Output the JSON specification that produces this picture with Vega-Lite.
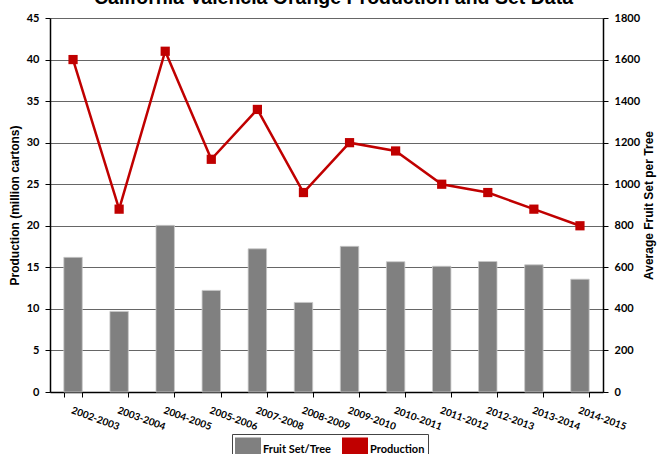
{
  "$schema": "https://vega.github.io/schema/vega-lite/v6.json",
  "autosize": {"type": "none"},
  "width": 553,
  "height": 374,
  "padding": {"left": 50, "top": 18, "right": 54, "bottom": 62},
  "background": "white",
  "title": {
    "text": "California Valencia Orange Production and Set Data",
    "font": "Liberation Sans",
    "fontSize": 19.5,
    "fontWeight": "bold",
    "color": "black",
    "anchor": "middle",
    "frame": "group",
    "baseline": "alphabetic",
    "offset": 3,
    "dy": 14.5,
    "dx": 7
  },
  "config": {
    "view": {"stroke": null},
    "axis": {
      "labelFont": "Lato",
      "labelFontWeight": "bold",
      "labelFontSize": 11,
      "labelColor": "black",
      "titleFont": "Liberation Sans",
      "titleFontWeight": "bold",
      "titleFontSize": 12,
      "titleColor": "black",
      "domainColor": "black",
      "tickColor": "black"
    }
  },
  "data": {
    "values": [
      {"season": "2002-2003", "production": 40, "fruitset": 648},
      {"season": "2003-2004", "production": 22, "fruitset": 388},
      {"season": "2004-2005", "production": 41, "fruitset": 802},
      {"season": "2005-2006", "production": 28, "fruitset": 489},
      {"season": "2007-2008", "production": 34, "fruitset": 689},
      {"season": "2008-2009", "production": 24, "fruitset": 431},
      {"season": "2009-2010", "production": 30, "fruitset": 701},
      {"season": "2010-2011", "production": 29, "fruitset": 627},
      {"season": "2011-2012", "production": 25, "fruitset": 605},
      {"season": "2012-2013", "production": 24, "fruitset": 628},
      {"season": "2013-2014", "production": 22, "fruitset": 612},
      {"season": "2014-2015", "production": 20, "fruitset": 543}
    ]
  },
  "encoding": {
    "x": {
      "field": "season",
      "type": "nominal",
      "sort": null,
      "scale": {"paddingInner": 0.6, "paddingOuter": 0.3},
      "axis": {
        "title": null,
        "labelAngle": 20,
        "labelAlign": "left",
        "labelBaseline": "top",
        "labelPadding": 8,
        "labelFontSize": 10,
        "tickBand": "extent",
        "tickSize": 5,
        "domainWidth": 1.5
      }
    }
  },
  "layer": [
    {
      "mark": {"type": "bar", "stroke": "#c8c8c8", "strokeWidth": 0.8},
      "encoding": {
        "y": {
          "field": "fruitset",
          "type": "quantitative",
          "scale": {"domain": [0, 1800], "nice": false},
          "axis": {
            "orient": "right",
            "title": "Average Fruit Set per Tree",
            "titleAngle": 270,
            "titleBaseline": "top",
            "values": [0, 200, 400, 600, 800, 1000, 1200, 1400, 1600, 1800],
            "format": "d",
            "grid": false,
            "tickSize": 5,
            "labelPadding": 6,
            "titlePadding": 4,
            "domainWidth": 1.5
          }
        },
        "color": {
          "datum": "Fruit Set/Tree",
          "type": "nominal",
          "scale": {"domain": ["Fruit Set/Tree", "Production"], "range": ["#808080", "#C00000"]},
          "legend": {
            "orient": "none",
            "legendX": 182,
            "legendY": 416,
            "direction": "horizontal",
            "title": null,
            "labelFont": "Lato",
            "labelFontWeight": "bold",
            "labelFontSize": 11,
            "labelColor": "black",
            "labelOffset": 2,
            "symbolSize": 600,
            "strokeColor": "#444",
            "padding": 3,
            "columnPadding": 8,
            "symbolOpacity": 1,
            "encode": {
              "symbols": {
                "shape": {"value": {"expr": "datum.label === 'Production' ? 'M-0.8,0H0.8M-0.28,-0.28H0.28V0.28H-0.28Z' : 'M-0.95,-0.33H0.95V0.33H-0.95Z'"}},
                "stroke": {"value": {"expr": "datum.label === 'Production' ? '#C00000' : '#808080'"}},
                "fill": {"value": {"expr": "datum.label === 'Production' ? '#C00000' : '#808080'"}},
                "strokeWidth": {"value": {"expr": "datum.label === 'Production' ? 2 : 0"}}
              }
            }
          }
        }
      }
    },
    {
      "mark": {"type": "line", "color": "#C00000", "strokeWidth": 2.5},
      "encoding": {
        "y": {
          "field": "production",
          "type": "quantitative",
          "scale": {"domain": [0, 45], "nice": false},
          "axis": {
            "orient": "left",
            "title": "Production (million cartons)",
            "values": [0, 5, 10, 15, 20, 25, 30, 35, 40, 45],
            "grid": true,
            "gridColor": "#666666",
            "gridWidth": 1,
            "tickSize": 5,
            "labelPadding": 6,
            "titlePadding": 5,
            "domainWidth": 1.5
          }
        },
        "color": {"datum": "Production", "type": "nominal"}
      }
    },
    {
      "mark": {"type": "point", "shape": "square", "filled": true, "size": 85, "opacity": 1, "color": "#C00000"},
      "encoding": {
        "y": {"field": "production", "type": "quantitative", "scale": {"domain": [0, 45], "nice": false}, "axis": null}
      }
    }
  ],
  "resolve": {"scale": {"y": "independent"}}
}
